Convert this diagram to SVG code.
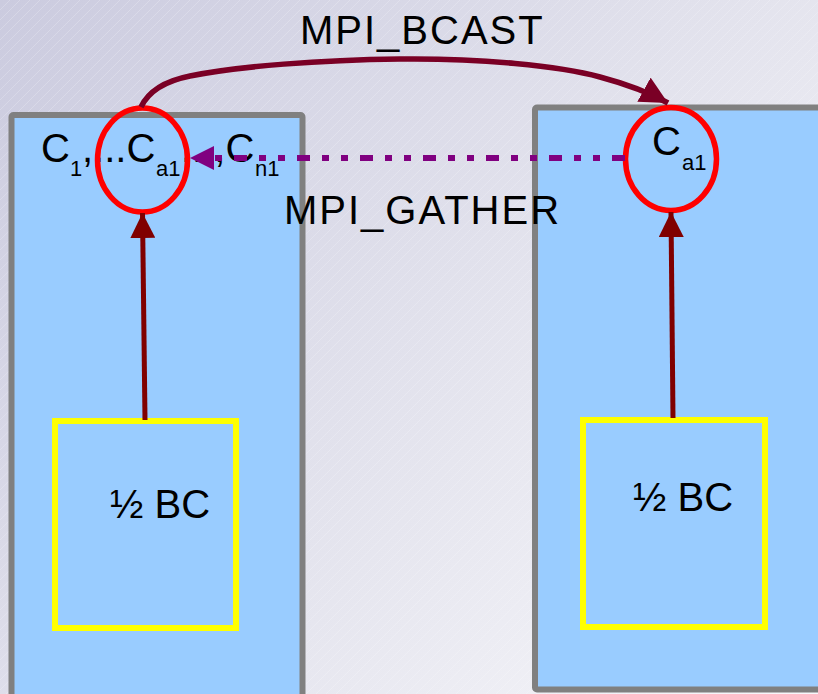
<svg xmlns="http://www.w3.org/2000/svg" width="818" height="694" viewBox="0 0 818 694">
<defs>
<linearGradient id="bg" gradientUnits="userSpaceOnUse" x1="0" y1="0" x2="818" y2="694">
<stop offset="0" stop-color="#cbcbdf"/>
<stop offset="0.6" stop-color="#e6e6ef"/>
<stop offset="1" stop-color="#f8f8fb"/>
</linearGradient>
<pattern id="hatch" patternUnits="userSpaceOnUse" width="10" height="10">
<path d="M-1,11 L11,-1" stroke="#ffffff" stroke-width="0.6" stroke-opacity="0.35"/>
</pattern>
<marker id="redArrow" viewBox="0 0 10 10" refX="10" refY="5" markerWidth="5" markerHeight="5" orient="auto" markerUnits="strokeWidth">
<path d="M0,0 L10,5 L0,10 z" fill="#800000"/>
</marker>
<marker id="bcastArrow" viewBox="0 0 10 10" refX="10" refY="5" markerWidth="5" markerHeight="5" orient="auto" markerUnits="strokeWidth">
<path d="M0,0 L10,5 L0,10 z" fill="#7a0025"/>
</marker>
<marker id="purpleArrow" viewBox="0 0 10 10" refX="10" refY="5" markerWidth="4.5" markerHeight="4" orient="auto" markerUnits="strokeWidth">
<path d="M0,0 L10,5 L0,10 z" fill="#800080"/>
</marker>
<style>
.proc { fill: #99ccff; stroke: #808080; stroke-width: 6; }
.bc { fill: #99ccff; stroke: #ffff00; stroke-width: 6; }
.ring { fill: none; stroke: #ff0000; stroke-width: 5.5; }
.t { font-family: "Liberation Sans", Arial, sans-serif; font-size: 40px; fill: #000000; }
.s { font-family: "Liberation Sans", Arial, sans-serif; font-size: 22px; fill: #000000; }
.lbl { font-family: "Liberation Sans", Arial, sans-serif; font-size: 40px; fill: #000000; letter-spacing: 2px; }
</style>
</defs>
<rect x="0" y="0" width="818" height="694" fill="url(#bg)"/>
<rect x="0" y="0" width="818" height="694" fill="url(#hatch)"/>

<g id="process-left">
<rect class="proc" x="11.5" y="115" width="291" height="600" rx="2"/>
</g>
<g id="process-right">
<rect class="proc" x="535" y="107.5" width="300" height="582" rx="2"/>
</g>

<g id="bc-left">
<rect class="bc" x="55" y="421" width="181" height="207"/>
<text class="t" x="110" y="518">½ BC</text>
</g>
<g id="bc-right">
<rect class="bc" x="583" y="420" width="182" height="207"/>
<text class="t" x="633" y="511">½ BC</text>
</g>

<g id="gather-text">
<text class="t" x="41" y="162">C</text>
<text class="s" x="70" y="176">1</text>
<text class="t" x="82" y="162">,...C</text>
<text class="s" x="156" y="176">a1</text>
<text class="t" x="181" y="162">...,C</text>
<text class="s" x="255" y="176">n1</text>
</g>

<g id="ca1-left">
<ellipse class="ring" cx="142.5" cy="160" rx="45" ry="52"/>
</g>
<g id="ca1-right">
<ellipse class="ring" cx="671" cy="159" rx="45.5" ry="51.5"/>
<text class="t" x="652" y="155">C</text>
<text class="s" x="682" y="170">a1</text>
</g>

<g id="connectors">
<line x1="145" y1="420" x2="142.5" y2="213" stroke="#800000" stroke-width="5" marker-end="url(#redArrow)"/>
<line x1="673" y1="418" x2="671" y2="212" stroke="#800000" stroke-width="5" marker-end="url(#redArrow)"/>
<path d="M141,107 C150,88 170,80 190,76 C240,66 320,60 400,59 C480,58 560,66 600,77 C630,85 650,93 668,103" fill="none" stroke="#7a0025" stroke-width="5.5" marker-end="url(#bcastArrow)"/>
<line x1="625" y1="158" x2="190" y2="158" stroke="#800080" stroke-width="6" stroke-dasharray="13 12 7 12 7 12" marker-end="url(#purpleArrow)"/>
</g>

<g id="labels">
<text class="lbl" x="300" y="44">MPI_BCAST</text>
<text class="lbl" x="284" y="224">MPI_GATHER</text>
</g>
</svg>
